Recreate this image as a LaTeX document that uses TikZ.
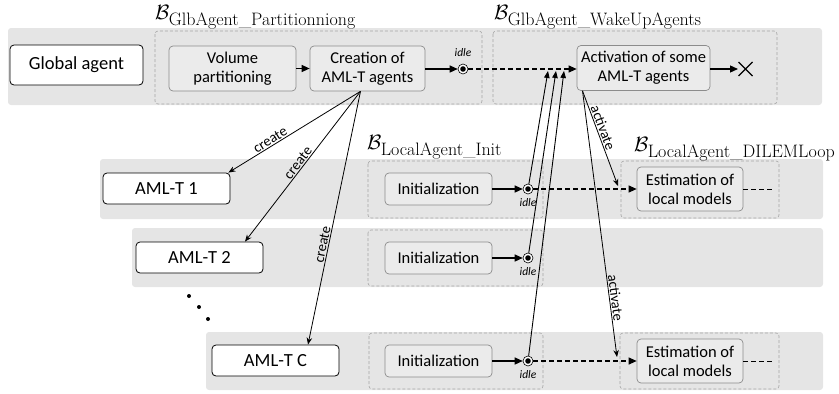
\documentclass[tikz,border=0pt]{standalone}
\usepackage{fontspec}
\newfontfamily\cf{Carlito}
\usetikzlibrary{arrows.meta}
\newcommand\bsub[1]{$\mathcal{B}_{\mbox{\fontsize{18}{20}\selectfont #1}}$}
\begin{document}
\begin{tikzpicture}[x=1pt,y=-1pt,
 band/.style={fill=black!10, rounded corners=3pt},
 dbox/.style={draw=black!35, dash pattern=on 3pt off 2pt, rounded corners=3pt, line width=0.6pt},
 agent/.style={draw=black, fill=white, rounded corners=4pt, line width=0.8pt, font=\cf\fontsize{18.5}{20}\selectfont, inner sep=0pt},
 stepbox/.style={draw=black!45, fill=black!8, rounded corners=4pt, line width=0.7pt, font=\cf\fontsize{16.5}{19}\selectfont, inner sep=0pt, align=center},
 idlept/.style={circle, draw=black, fill=white, minimum size=10pt, inner sep=0pt, line width=0.6pt, path picture={\fill[black] (path picture bounding box.center) circle (2.8pt);}},
 flow/.style={line width=1.3pt, -{Triangle[length=8pt,width=7pt]}},
 wait/.style={line width=1.1pt, dash pattern=on 5pt off 3pt, -{Triangle[length=8pt,width=7pt]}},
 tail/.style={line width=1pt, dash pattern=on 5pt off 3pt},
 crt/.style={line width=0.8pt, -{Stealth[length=7pt,width=5.5pt]}},
 up/.style={line width=0.9pt, -{Triangle[length=7pt,width=5.5pt]}},
 lbl/.style={font=\cf\fontsize{14.5}{16}\selectfont, inner sep=1pt},
 idlelbl/.style={font=\cf\itshape\fontsize{11.5}{13}\selectfont, inner sep=0pt},
 blabel/.style={font=\fontsize{20}{24}\selectfont, inner sep=0pt, anchor=west},
]
\useasboundingbox (0,0) rectangle (839,394);
% bands
\fill[band] (8,28) rectangle (822,105);
\fill[band] (100,159) rectangle (823,219);
\fill[band] (132,228) rectangle (823,287);
\fill[band] (206,332) rectangle (823,390);
% dashed behaviour boxes
\draw[dbox] (155,31) rectangle (482,104);
\draw[dbox] (493,31) rectangle (777,104);
\draw[dbox] (368,161) rectangle (543,218);
\draw[dbox] (621,161) rectangle (779,218);
\draw[dbox] (368,230) rectangle (543,286);
\draw[dbox] (369,333) rectangle (543,389);
\draw[dbox] (620,333) rectangle (779,389);
% behaviour labels
\node[blabel] (b1) at (155,17) {\bsub{GlbAgent\_Partitionniong}};
\node[blabel] (b2) at (494,17) {\bsub{GlbAgent\_WakeUpAgents}};
\node[blabel] (b3) at (367,147) {\bsub{LocalAgent\_Init}};
\node[blabel] (b4) at (634,149) {\bsub{LocalAgent\_DILEMLoop}};
% global agent row
\node[agent, minimum width=133pt, minimum height=40pt] (ga) at (76.5,65) {Global agent};
\node[stepbox, minimum width=127pt, minimum height=45pt] (vp) at (232.5,68.5) {Volume\\partitioning};
\node[stepbox, minimum width=115pt, minimum height=45pt] (ca) at (367.5,68.5) {Creation of\\AML-T agents};
\node[idlept] (g0) at (463,69) {};
\node[idlelbl] (g0l) at (463,53) {idle};
\node[stepbox, minimum width=133pt, minimum height=45pt] (act) at (643.5,68) {Activation of some\\AML-T agents};
\coordinate (xend) at (745.5,69);
\draw[line width=1.3pt] (xend) ++(-7,-7) -- ++(14,14) (xend) ++(-7,7) -- ++(14,-14);
\draw[flow] (vp) -- (ca);
\draw[flow] (ca.east |- g0) -- (g0);
\draw[wait] (g0) -- (act.west |- g0);
\draw[flow] (act.east |- xend) -- ([xshift=-7.5pt]xend);
% local agents
\node[agent, minimum width=127pt, minimum height=31pt] (a1) at (166.5,188.5) {AML-T 1};
\node[agent, minimum width=127pt, minimum height=31pt] (a2) at (199.5,257.5) {AML-T 2};
\node[agent, minimum width=127pt, minimum height=31pt] (ac) at (275.5,360.5) {AML-T C};
\node[stepbox, minimum width=107pt, minimum height=32pt] (in1) at (438.5,189) {Initialization};
\node[stepbox, minimum width=107pt, minimum height=32pt] (in2) at (438.5,258) {Initialization};
\node[stepbox, minimum width=107pt, minimum height=32pt] (in3) at (438.5,361) {Initialization};
\node[idlept] (i1) at (528,189) {};
\node[idlept] (i2) at (528,258) {};
\node[idlept] (i3) at (528,361) {};
\node[idlelbl] (i1l) at (528,203) {idle};
\node[idlelbl] (i2l) at (528,272) {idle};
\node[idlelbl] (i3l) at (528,375) {idle};
\node[stepbox, minimum width=106pt, minimum height=44pt] (es1) at (690,189) {Estimation of\\local models};
\node[stepbox, minimum width=106pt, minimum height=44pt] (es3) at (690,361) {Estimation of\\local models};
\coordinate (e1end) at (773,189);
\coordinate (e3end) at (773,361);
\draw[flow] (in1) -- (i1);
\draw[flow] (in2) -- (i2);
\draw[flow] (in3) -- (i3);
\draw[wait] (i1) -- (es1);
\draw[wait] (i3) -- (es3);
\draw[tail] (es1) -- (e1end);
\draw[tail] (es3) -- (e3end);
% create arrows
\draw[crt] ([xshift=-7pt]ca.south) -- node[lbl, sloped, above, pos=0.66] {create} ([xshift=-2pt]a1.north east);
\draw[crt] ([xshift=-7pt]ca.south) -- node[lbl, sloped, above, pos=0.5] {create} ([xshift=45.5pt]a2.north);
\draw[crt] ([xshift=-7pt]ca.south) -- node[lbl, sloped, above, pos=0.61] {create} ([xshift=32.5pt]ac.north);
% wake-up arrows
\coordinate (u1) at (548,71);
\coordinate (u2) at (556,71);
\coordinate (u3) at (564,71);
\draw[up] (i1) -- (u1);
\draw[up] (i2) -- (u2);
\draw[up] (i3) -- (u3);
% activate arrows
\coordinate (t1) at (618,186);
\coordinate (t3) at (617,357);
\draw[crt] ([xshift=-61pt]act.south) -- node[lbl, sloped, above, pos=0.41] {activate} (t1);
\draw[crt] ([xshift=-61pt]act.south) -- node[lbl, sloped, above, pos=0.78] {activate} (t3);
% ellipsis
\fill (189,296) circle (2pt);
\fill (199,307) circle (2pt);
\fill (208,319) circle (2pt);
\end{tikzpicture}
\end{document}
